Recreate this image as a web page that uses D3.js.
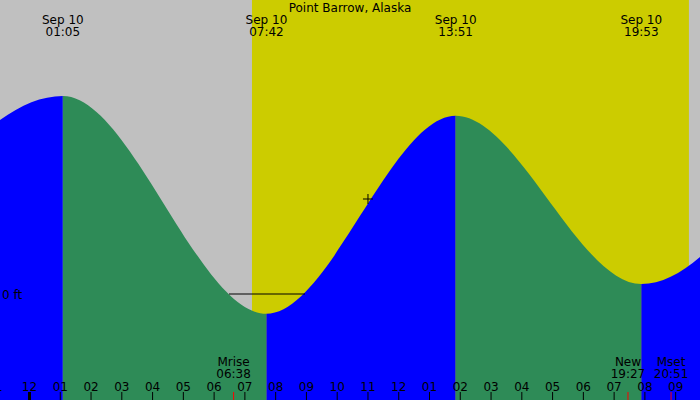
<!DOCTYPE html>
<html>
<head>
<meta charset="utf-8">
<script src="https://d3js.org/d3.v7.min.js"></script>
<style>
  body { margin: 0; }
  text { font-family: "DejaVu Sans", sans-serif; font-size: 12px; fill: #000; }
</style>
</head>
<body>
<script>
// hours from midnight Sep 10; heights in ft
var tideHours   = [-5.9, 1.083, 7.7, 13.85, 19.883, 25.7];
var tideHeights = [-0.03, 0.60, -0.06, 0.54, 0.03, 0.60];
var tideLabels  = ["", "01:05", "07:42", "13:51", "19:53", ""];
var sunrise = 7.23, sunset = 21.43;
var moonEvents = [{h: 6.633, name: "Mrise", t: "06:38"}, {h: 19.45, name: "New", t: "19:27"}, {h: 20.85, name: "Mset", t: "20:51"}];
var hourTicks = d3.range(-1, 22);
var nowHour = 11.0;

var W = 700, H = 400;
var x = d3.scaleLinear().domain([0, 1]).range([29.5, 29.5 + 30.77]);
var y = d3.scaleLinear().domain([0, 1]).range([294, 294 - 330]);

var svg = d3.select("body").append("svg").attr("width", W).attr("height", H);

// night / day background
svg.append("rect").attr("width", W).attr("height", H).attr("fill", "#c0c0c0");
svg.append("rect").attr("x", x(sunrise)).attr("width", x(sunset) - x(sunrise))
  .attr("height", H).attr("fill", "#cccc00");

var pts = tideHours.map(function (h, i) { return [h, tideHeights[i]]; });
var area = d3.area().curve(d3.curveMonotoneX)
  .x(function (d) { return x(d[0]); }).y0(H).y1(function (d) { return y(d[1]); });

svg.append("clipPath").attr("id", "tide").append("path").attr("d", area(pts));
var g = svg.append("g").attr("clip-path", "url(#tide)");
for (var i = 0; i < pts.length - 1; i++) {
  var rising = pts[i + 1][1] > pts[i][1];
  g.append("rect").attr("x", x(pts[i][0])).attr("width", x(pts[i + 1][0]) - x(pts[i][0]))
    .attr("height", H).attr("fill", rising ? "#0000ff" : "#2e8b57");
}

// zero line where the sky shows below it
svg.append("line").attr("x1", 229).attr("x2", 305).attr("y1", y(0)).attr("y2", y(0))
  .attr("stroke", "#000");
svg.append("text").attr("x", 2).attr("y", y(0) + 5).text("0 ft");

// current-time cross
var cy = 199;
svg.append("path").attr("d", "M" + (x(nowHour) - 5) + "," + cy + "h10M" + x(nowHour) + "," + (cy - 5) + "v10")
  .attr("stroke", "#000");

svg.append("text").attr("x", W / 2).attr("y", 12).attr("text-anchor", "middle").text("Point Barrow, Alaska");

tideHours.forEach(function (h, i) {
  if (!tideLabels[i]) return;
  svg.append("text").attr("x", x(h)).attr("y", 24).attr("text-anchor", "middle").text("Sep 10");
  svg.append("text").attr("x", x(h)).attr("y", 36).attr("text-anchor", "middle").text(tideLabels[i]);
});

// hour axis
hourTicks.forEach(function (h) {
  var hh = ((h % 12) + 12) % 12; if (hh === 0) hh = 12;
  var label = d3.format("02")(hh);
  svg.append("text").attr("x", x(h)).attr("y", 391).attr("text-anchor", "middle")
    .text(h < 0 ? label.slice(1) : label);
  svg.append("line").attr("x1", x(h)).attr("x2", x(h)).attr("y1", 392).attr("y2", H)
    .attr("stroke", "#000").attr("stroke-width", h === 0 ? 3 : 1);
});

moonEvents.forEach(function (m) {
  svg.append("line").attr("x1", x(m.h)).attr("x2", x(m.h)).attr("y1", 392).attr("y2", H)
    .attr("stroke", "#ff0000");
  svg.append("text").attr("x", x(m.h)).attr("y", 366).attr("text-anchor", "middle").text(m.name);
  svg.append("text").attr("x", x(m.h)).attr("y", 378).attr("text-anchor", "middle").text(m.t);
});
</script>
</body>
</html>
